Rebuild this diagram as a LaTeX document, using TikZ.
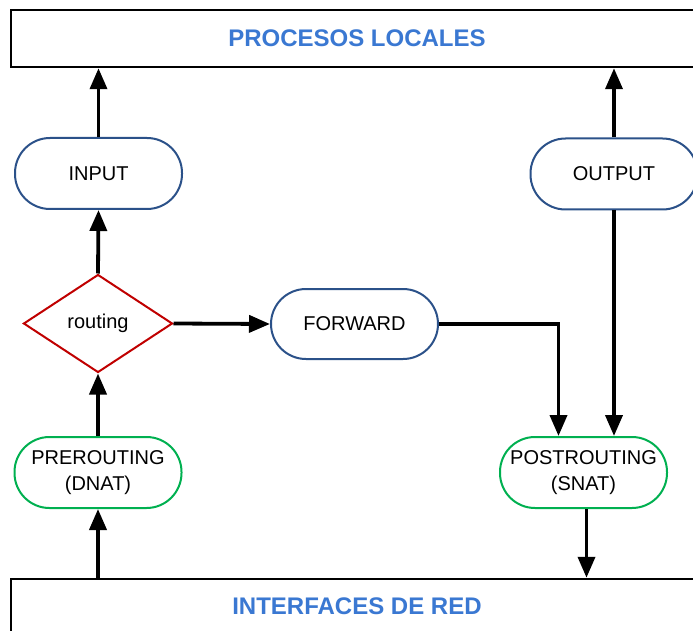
\documentclass[tikz,border=0pt]{standalone}
\usepackage{fontspec}
\setmainfont{Liberation Sans}
\usetikzlibrary{arrows.meta, shapes.geometric}

\definecolor{chainblue}{HTML}{2B5189}
\definecolor{chaingreen}{HTML}{00B050}
\definecolor{routered}{HTML}{C00000}
\definecolor{titleblue}{HTML}{3A78D2}

\tikzset{
  layer/.style={draw=black, line width=2.5pt, fill=white, minimum width=692pt,
                font=\fontsize{24}{28}\selectfont\bfseries, text=titleblue},
  chain/.style={draw=chainblue, line width=2pt, rounded corners=35pt,
                minimum width=167pt, minimum height=71pt, align=center,
                font=\fontsize{20}{26}\selectfont},
  natchain/.style={chain, draw=chaingreen},
  decision/.style={diamond, draw=routered, line width=2pt, inner sep=0pt,
                minimum width=149pt, minimum height=98pt,
                font=\fontsize{20}{22}\selectfont},
  flow/.style={line width=3.8pt, -{Triangle[length=21pt, width=17pt]}},
}

\begin{document}
\begin{tikzpicture}[x=1pt, y=-1pt]
  \useasboundingbox (0,0) rectangle (693,631);

  % capas
  \node[layer, minimum height=57pt] (local) at (357,38.5) {PROCESOS LOCALES};
  \node[layer, minimum height=54pt] (red) at (357,606) {INTERFACES DE RED};

  % cadenas
  \node[chain] (input) at (98.5,173.5) {INPUT};
  \node[chain] (output) at (614,174) {OUTPUT};
  \node[decision] (routing) at (98,323.5) {routing};
  \node[chain, minimum height=70pt] (forward) at (354.5,324) {FORWARD};
  \node[natchain] (pre) at (98,472.5) {PREROUTING\\(DNAT)};
  \node[natchain] (post) at (583.5,472.5) {POSTROUTING\\(SNAT)};

  % flujo de paquetes
  \draw[flow] (red.north -| pre.south) -- (pre.south);
  \draw[flow] (pre.north) -- (routing.south);
  \draw[flow] (routing.north) -- (input.south);
  \draw[flow] (input.north) -- (input.north |- local.south);
  \draw[flow] (routing.east) -- (forward.west);
  \draw[flow] (forward.east) -| ([xshift=-25pt]post.north);
  \draw[flow] (output.north) -- (output.north |- local.south);
  \draw[flow] (output.south) -- (output.south |- post.north);
  \draw[flow] ([xshift=3pt]post.south) -- ([xshift=3pt]post.south |- red.north);

\end{tikzpicture}
\end{document}
